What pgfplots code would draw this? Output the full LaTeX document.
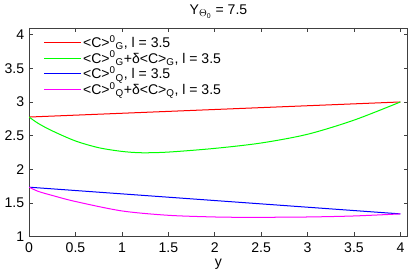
\documentclass[border=0pt]{standalone}
\usepackage{pgfplots}
\pgfplotsset{compat=1.18}
\usepackage{fontspec}
\setmainfont{Liberation Sans}
\definecolor{cR}{RGB}{255,0,0}
\definecolor{cG}{RGB}{0,255,0}
\definecolor{cB}{RGB}{0,0,255}
\definecolor{cM}{RGB}{255,0,255}
\newcommand{\fs}{\fontsize{14}{16}\selectfont}
\begin{document}
\fs
\begin{tikzpicture}
\begin{axis}[
  scale only axis,
  width=376bp, height=207bp,
  xmin=0, xmax=4.08, ymin=1, ymax=4.1,
  xtick={0,0.5,...,4}, ytick={1,1.5,...,4},
  tick align=inside, major tick length=4bp,
  /pgf/number format/assume math mode=true,
  ticklabel style={font=\fs},
  xticklabel style={yshift=-1bp},
  xlabel={y}, xlabel style={font=\fs, yshift=3bp},
  title={Y\textsubscript{$\Theta$\textsubscript{0}} = 7.5},
  title style={font=\fs, yshift=-1bp},
  axis line style={black!75, line width=0.9pt},
  every tick/.style={black!75, line width=0.7pt},
  legend style={draw=none, fill=none, at={(0.03,0.985)}, anchor=north west,
    font=\fs, row sep=-2.5bp},
  legend cell align=left,
  legend image code/.code={\draw[#1, line width=1.2pt] (0bp,0bp) -- (36bp,0bp);},
]
\addplot[draw=cR, line width=1pt] coordinates {(0,2.776) (4,3.0)};
\addlegendentry{<C>\textsuperscript{0}\textsubscript{G}, l = 3.5}
\addplot[draw=cG, line width=1pt, smooth] coordinates {
 (0,2.776) (0.1,2.68) (0.25,2.57) (0.5,2.42) (0.75,2.32) (1,2.265) (1.21,2.245) (1.5,2.255) (2,2.31) (2.5,2.39) (3,2.52) (3.5,2.73) (4,3.0)};
\addlegendentry{<C>\textsuperscript{0}\textsubscript{G}+δ<C>\textsubscript{G}, l = 3.5}
\addplot[draw=cB, line width=1pt] coordinates {(0,1.733) (4,1.336)};
\addlegendentry{<C>\textsuperscript{0}\textsubscript{Q}, l = 3.5}
\addplot[draw=cM, line width=1pt, smooth] coordinates {
 (0,1.733) (0.1,1.67) (0.25,1.61) (0.5,1.52) (1,1.38) (1.5,1.315) (2,1.29) (2.3,1.285) (2.5,1.285) (3,1.29) (3.5,1.305) (4,1.336)};
\addlegendentry{<C>\textsuperscript{0}\textsubscript{Q}+δ<C>\textsubscript{Q}, l = 3.5}
\end{axis}
\end{tikzpicture}
\end{document}
